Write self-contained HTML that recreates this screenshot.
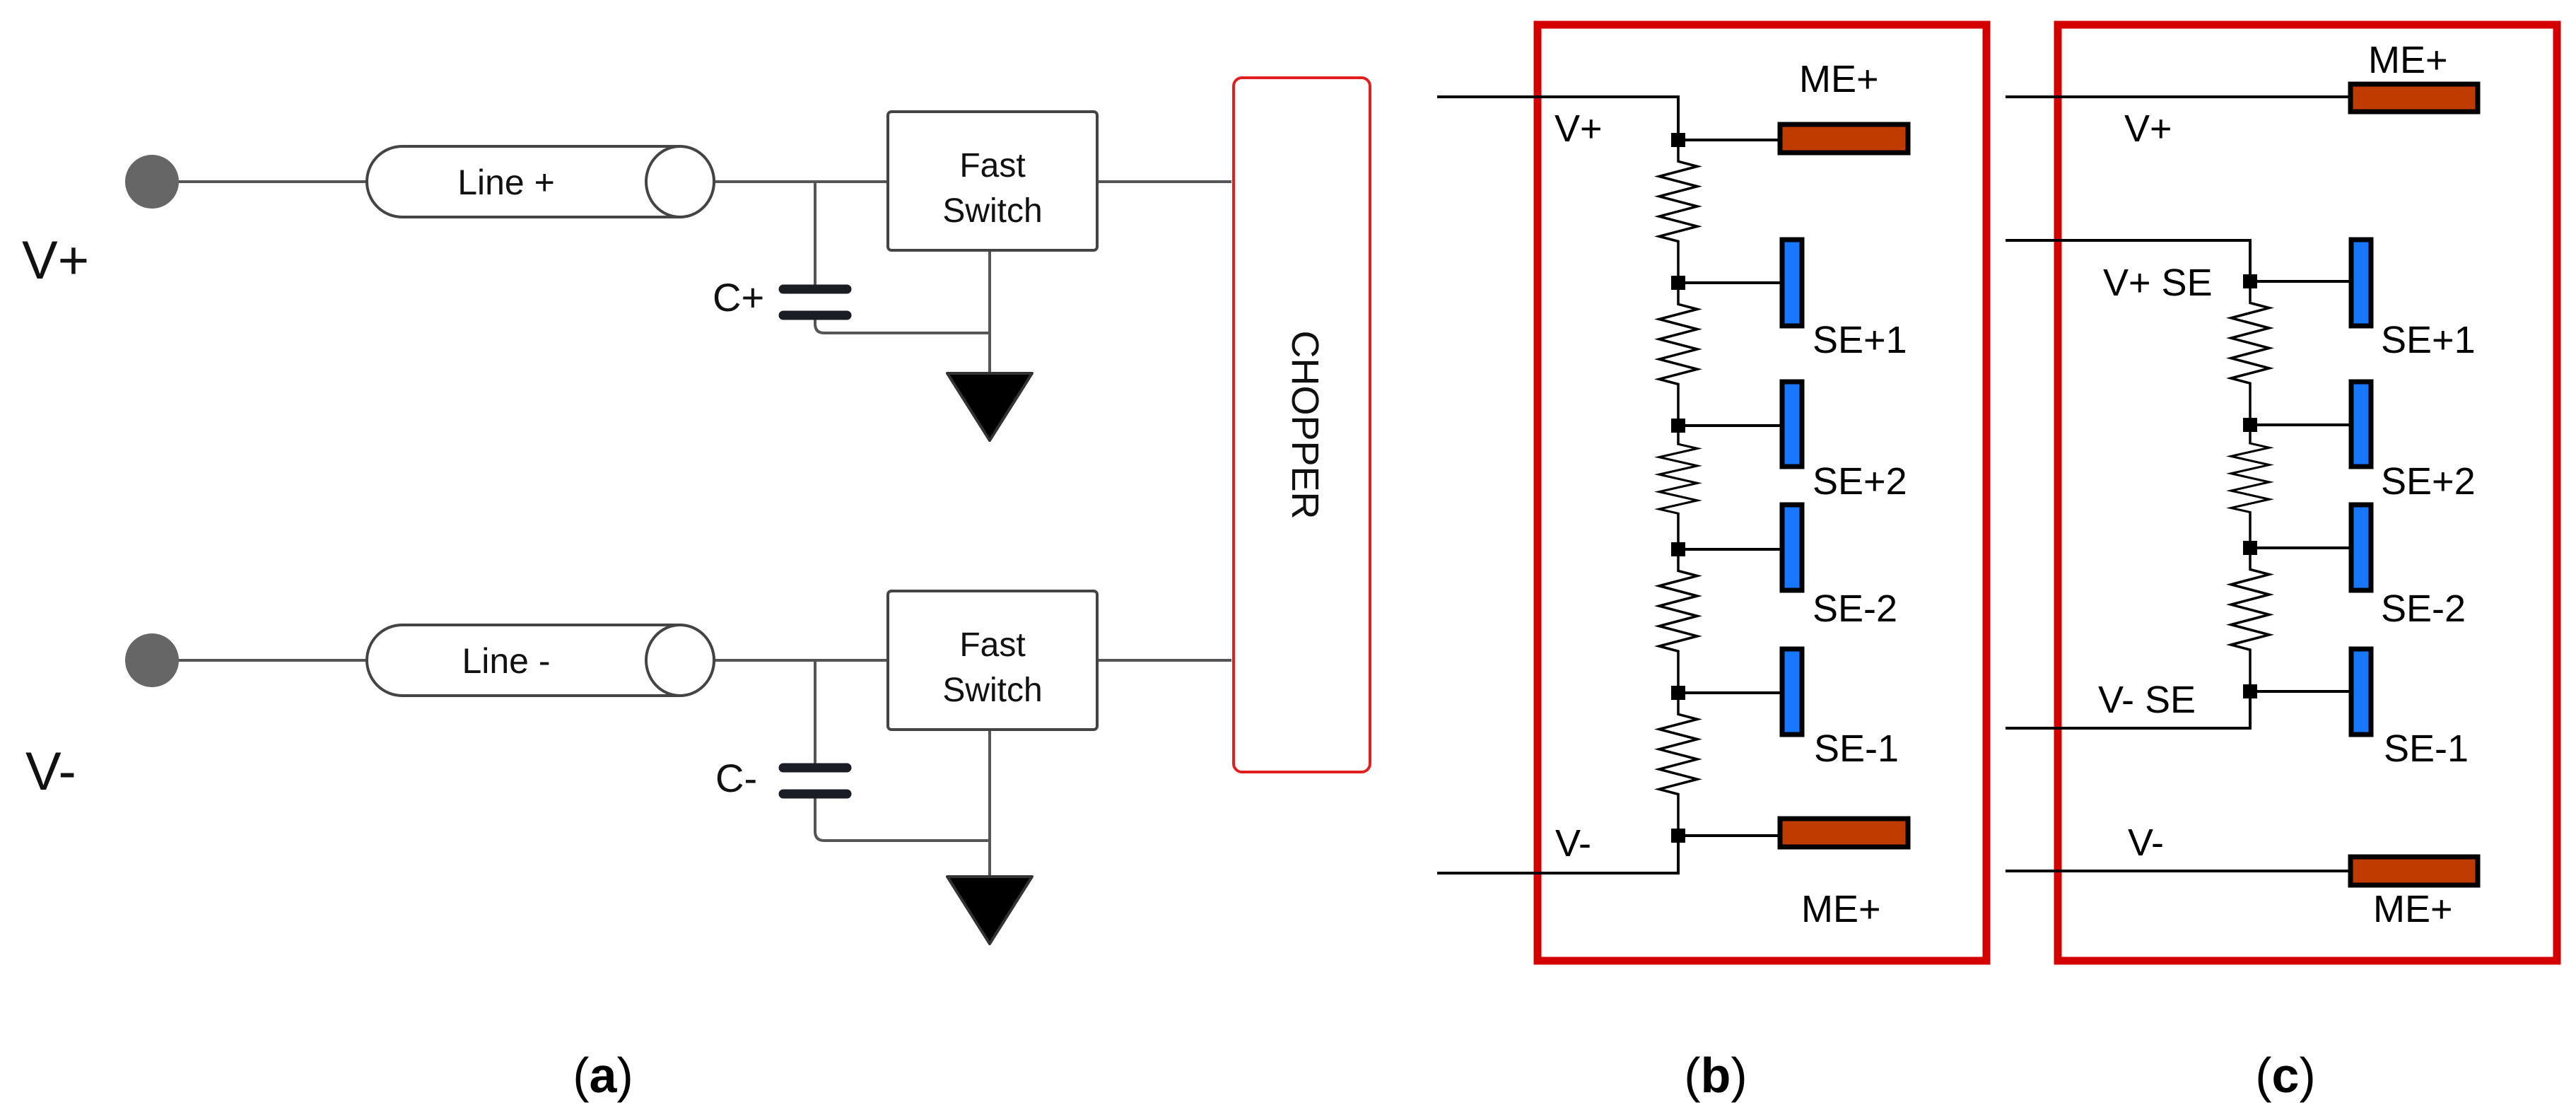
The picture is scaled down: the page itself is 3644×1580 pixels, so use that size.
<!DOCTYPE html>
<html><head><meta charset="utf-8"><style>
html,body{margin:0;padding:0;background:#fff;}
svg{display:block;}
text{font-family:"Liberation Sans",sans-serif;}
</style></head><body>
<svg width="3644" height="1580" viewBox="0 0 3644 1580" xmlns="http://www.w3.org/2000/svg">
<defs>
<path id="res" d="M0 0 V30 L27 37 L-27 51 L27 65 L-27 79 L27 93 L-27 107 L27 121 L-27 135 L0 142 V200" fill="none" stroke="#000" stroke-width="3.5"/>
</defs>
<rect width="3644" height="1580" fill="#fff"/>

<!-- ===== Panel (a) ===== -->
<g stroke="#555" stroke-width="4" fill="none">
  <line x1="215" y1="257" x2="519" y2="257"/>
  <line x1="1010" y1="257" x2="1256" y2="257"/>
  <line x1="1552" y1="257" x2="1742" y2="257"/>
  <line x1="1153" y1="257" x2="1153" y2="409"/>
  <path d="M1153 446 V458 Q1153 471 1166 471 H1400"/>
  <line x1="1400" y1="353" x2="1400" y2="530"/>
  <line x1="215" y1="934" x2="519" y2="934"/>
  <line x1="1010" y1="934" x2="1256" y2="934"/>
  <line x1="1552" y1="934" x2="1742" y2="934"/>
  <line x1="1153" y1="934" x2="1153" y2="1085"/>
  <path d="M1153 1124 V1176 Q1153 1189 1166 1189 H1400"/>
  <line x1="1400" y1="1032" x2="1400" y2="1240"/>
</g>
<circle cx="215" cy="257" r="38" fill="#666"/>
<circle cx="215" cy="934" r="38" fill="#666"/>
<g stroke="#444" stroke-width="4" fill="#fff">
  <rect x="519" y="207" width="491" height="100" rx="50"/>
  <ellipse cx="962" cy="257" rx="48" ry="50"/>
  <rect x="519" y="884" width="491" height="100" rx="50"/>
  <ellipse cx="962" cy="934" rx="48" ry="50"/>
  <rect x="1256" y="158" width="296" height="196" rx="5"/>
  <rect x="1256" y="836" width="296" height="196" rx="5"/>
</g>
<text x="716" y="275" font-size="50" text-anchor="middle" fill="#111">Line +</text>
<text x="716" y="952" font-size="50" text-anchor="middle" fill="#111">Line -</text>
<text x="1404" y="250" font-size="48" text-anchor="middle" fill="#111">Fast</text>
<text x="1404" y="314" font-size="48" text-anchor="middle" fill="#111">Switch</text>
<text x="1404" y="928" font-size="48" text-anchor="middle" fill="#111">Fast</text>
<text x="1404" y="992" font-size="48" text-anchor="middle" fill="#111">Switch</text>
<g stroke="#1a1d24" stroke-width="13" stroke-linecap="round">
  <line x1="1108" y1="409" x2="1198" y2="409"/>
  <line x1="1108" y1="446" x2="1198" y2="446"/>
  <line x1="1108" y1="1086" x2="1198" y2="1086"/>
  <line x1="1108" y1="1123" x2="1198" y2="1123"/>
</g>
<text x="1008" y="440" font-size="56" fill="#111">C+</text>
<text x="1012" y="1120" font-size="56" fill="#111">C-</text>
<polygon points="1340,528 1460,528 1400,623" fill="#000" stroke="#333" stroke-width="4" stroke-linejoin="round"/>
<polygon points="1340,1240 1460,1240 1400,1335" fill="#000" stroke="#333" stroke-width="4" stroke-linejoin="round"/>
<text x="31" y="394" font-size="76" fill="#111">V+</text>
<text x="36" y="1117" font-size="76" fill="#111">V-</text>
<rect x="1745" y="110" width="193" height="982" rx="12" fill="#fff" stroke="#e02020" stroke-width="4"/>
<text transform="translate(1828,601) rotate(90)" font-size="54" text-anchor="middle" fill="#111">CHOPPER</text>

<!-- ===== Panel (b) ===== -->
<rect x="2175" y="35" width="635" height="1324" fill="none" stroke="#d40000" stroke-width="11"/>
<g stroke="#000" stroke-width="4" fill="none">
  <polyline points="2033,137 2374,137 2374,200"/>
  <polyline points="2033,1235 2374,1235 2374,1182"/>
  <line x1="2374" y1="198" x2="2518" y2="198"/>
  <line x1="2374" y1="400" x2="2520" y2="400"/>
  <line x1="2374" y1="602" x2="2520" y2="602"/>
  <line x1="2374" y1="777" x2="2520" y2="777"/>
  <line x1="2374" y1="980" x2="2520" y2="980"/>
  <line x1="2374" y1="1182" x2="2518" y2="1182"/>
</g>
<use href="#res" transform="translate(2374,198) scale(1,1.01)"/>
<use href="#res" transform="translate(2374,400) scale(1,1.01)"/>
<use href="#res" transform="translate(2374,602) scale(1,0.875)"/>
<use href="#res" transform="translate(2374,777) scale(1,1.015)"/>
<use href="#res" transform="translate(2374,980) scale(1,1.01)"/>
<g fill="#000">
  <rect x="2364" y="188" width="20" height="20"/>
  <rect x="2364" y="390" width="20" height="20"/>
  <rect x="2364" y="592" width="20" height="20"/>
  <rect x="2364" y="767" width="20" height="20"/>
  <rect x="2364" y="970" width="20" height="20"/>
  <rect x="2364" y="1172" width="20" height="20"/>
</g>
<g stroke="#000" stroke-width="7">
  <rect x="2518" y="176" width="181" height="40" fill="#bf3b00"/>
  <rect x="2518" y="1158" width="181" height="40" fill="#bf3b00"/>
  <rect x="2521" y="339" width="28" height="122" fill="#1877ff"/>
  <rect x="2521" y="540" width="28" height="120" fill="#1877ff"/>
  <rect x="2521" y="714" width="28" height="121" fill="#1877ff"/>
  <rect x="2521" y="918" width="28" height="121" fill="#1877ff"/>
</g>
<g font-size="54" fill="#000">
  <text x="2545" y="130">ME+</text>
  <text x="2548" y="1304">ME+</text>
  <text x="2199" y="200">V+</text>
  <text x="2200" y="1211">V-</text>
  <text x="2564" y="499">SE+1</text>
  <text x="2564" y="699">SE+2</text>
  <text x="2564" y="879">SE-2</text>
  <text x="2566" y="1077">SE-1</text>
</g>

<!-- ===== Panel (c) ===== -->
<rect x="2911" y="35" width="706" height="1324" fill="none" stroke="#d40000" stroke-width="11"/>
<g stroke="#000" stroke-width="4" fill="none">
  <line x1="2837" y1="137" x2="3325" y2="137"/>
  <line x1="2837" y1="1232" x2="3325" y2="1232"/>
  <polyline points="2837,340 3183,340 3183,400"/>
  <polyline points="2837,1030 3183,1030 3183,978"/>
  <line x1="3183" y1="398" x2="3325" y2="398"/>
  <line x1="3183" y1="601" x2="3325" y2="601"/>
  <line x1="3183" y1="775" x2="3325" y2="775"/>
  <line x1="3183" y1="978" x2="3325" y2="978"/>
</g>
<use href="#res" transform="translate(3183,398) scale(1,1.015)"/>
<use href="#res" transform="translate(3183,601) scale(1,0.87)"/>
<use href="#res" transform="translate(3183,775) scale(1,1.015)"/>
<g fill="#000">
  <rect x="3173" y="388" width="20" height="20"/>
  <rect x="3173" y="591" width="20" height="20"/>
  <rect x="3173" y="765" width="20" height="20"/>
  <rect x="3173" y="968" width="20" height="20"/>
</g>
<g stroke="#000" stroke-width="7">
  <rect x="3325" y="119" width="180" height="39" fill="#bf3b00"/>
  <rect x="3325" y="1212" width="180" height="40" fill="#bf3b00"/>
  <rect x="3326" y="339" width="28" height="122" fill="#1877ff"/>
  <rect x="3326" y="540" width="28" height="120" fill="#1877ff"/>
  <rect x="3326" y="714" width="28" height="121" fill="#1877ff"/>
  <rect x="3326" y="918" width="28" height="121" fill="#1877ff"/>
</g>
<g font-size="54" fill="#000">
  <text x="3350" y="103">ME+</text>
  <text x="3357" y="1304">ME+</text>
  <text x="3005" y="200">V+</text>
  <text x="3010" y="1210">V-</text>
  <text x="2975" y="418">V+ SE</text>
  <text x="2968" y="1008">V- SE</text>
  <text x="3368" y="499">SE+1</text>
  <text x="3368" y="699">SE+2</text>
  <text x="3368" y="879">SE-2</text>
  <text x="3372" y="1077">SE-1</text>
</g>

<g font-family="Liberation Serif, serif" font-size="70" fill="#000" text-anchor="middle">
  <text x="853" y="1545">(<tspan font-weight="bold">a</tspan>)</text>
  <text x="2427" y="1545">(<tspan font-weight="bold">b</tspan>)</text>
  <text x="3233" y="1545">(<tspan font-weight="bold">c</tspan>)</text>
</g>
</svg>
</body></html>
